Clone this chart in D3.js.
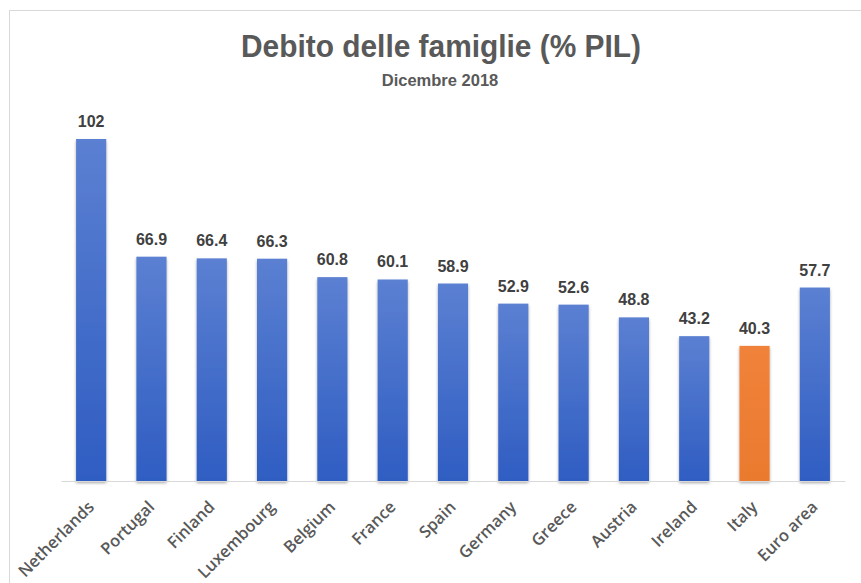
<!DOCTYPE html>
<html>
<head>
<meta charset="utf-8">
<script src="https://cdn.jsdelivr.net/npm/d3@7"></script>
<style>
  html, body { margin: 0; padding: 0; background: #ffffff; }
  svg { display: block; }
</style>
</head>
<body>
<svg id="chart" width="861" height="583"></svg>
<script>
const categories = ["Netherlands", "Portugal", "Finland", "Luxembourg", "Belgium", "France", "Spain", "Germany", "Greece", "Austria", "Ireland", "Italy", "Euro area"];
const values = [102, 66.9, 66.4, 66.3, 60.8, 60.1, 58.9, 52.9, 52.6, 48.8, 43.2, 40.3, 57.7];
const valueLabels = ["102", "66.9", "66.4", "66.3", "60.8", "60.1", "58.9", "52.9", "52.6", "48.8", "43.2", "40.3", "57.7"];
const highlight = ["Italy"];
const titleText = "Debito delle famiglie (% PIL)";
const subtitleText = "Dicembre 2018";

const svg = d3.select("#chart");
const W = 861, H = 583;

// frame
svg.append("rect")
  .attr("x", 9.5).attr("y", 10.5)
  .attr("width", W + 20).attr("height", H + 20)
  .attr("fill", "#ffffff")
  .attr("stroke", "#d9d9d9").attr("stroke-width", 1);

const defs = svg.append("defs");
const gBlue = defs.append("linearGradient").attr("id", "gBlue")
  .attr("x1", 0).attr("y1", 0).attr("x2", 0).attr("y2", 1);
gBlue.append("stop").attr("offset", "0%").attr("stop-color", "#5b80d2");
gBlue.append("stop").attr("offset", "100%").attr("stop-color", "#2f5dc2");
const gOrange = defs.append("linearGradient").attr("id", "gOrange")
  .attr("x1", 0).attr("y1", 0).attr("x2", 0).attr("y2", 1);
gOrange.append("stop").attr("offset", "0%").attr("stop-color", "#f0823a");
gOrange.append("stop").attr("offset", "100%").attr("stop-color", "#ea7a2e");

const shadow = defs.append("filter").attr("id", "shadow")
  .attr("x", "-30%").attr("y", "-10%").attr("width", "160%").attr("height", "130%");
shadow.append("feDropShadow")
  .attr("dx", 0).attr("dy", 2).attr("stdDeviation", 1.6)
  .attr("flood-color", "#000").attr("flood-opacity", 0.35);

// title
svg.append("text")
  .attr("x", 441).attr("y", 57)
  .attr("text-anchor", "middle")
  .attr("font-family", "'Liberation Sans', Arial, sans-serif")
  .attr("font-weight", "bold")
  .attr("font-size", 31)
  .attr("fill", "#595959")
  .attr("textLength", 400)
  .attr("lengthAdjust", "spacingAndGlyphs")
  .text(titleText);

svg.append("text")
  .attr("x", 440).attr("y", 86)
  .attr("text-anchor", "middle")
  .attr("font-family", "'Liberation Sans', Arial, sans-serif")
  .attr("font-weight", "bold")
  .attr("font-size", 16.5)
  .attr("fill", "#595959")
  .text(subtitleText);

const x = d3.scaleBand()
  .domain(categories)
  .range([61, 845])
  .paddingInner(0.5)
  .paddingOuter(0.25);

const y = d3.scaleLinear()
  .domain([0, 102])
  .range([481, 139]);

const data = categories.map((c, i) => ({ c, v: values[i], l: valueLabels[i] }));

// bars
svg.append("g").selectAll("rect")
  .data(data)
  .join("rect")
  .attr("x", d => x(d.c))
  .attr("y", d => y(d.v))
  .attr("width", x.bandwidth())
  .attr("height", d => y(0) - y(d.v))
  .attr("fill", d => highlight.includes(d.c) ? "url(#gOrange)" : "url(#gBlue)")
  .attr("filter", "url(#shadow)");

// axis line
const xAxis = d3.axisBottom(x).tickSize(0).tickFormat("");
const axisG = svg.append("g")
  .attr("transform", `translate(0,${y(0)})`)
  .call(xAxis);
axisG.select(".domain").attr("stroke", "#d9d9d9").attr("stroke-width", 1.2);

// value labels
svg.append("g").selectAll("text")
  .data(data)
  .join("text")
  .attr("x", d => x(d.c) + x.bandwidth() / 2)
  .attr("y", d => y(d.v) - 12)
  .attr("text-anchor", "middle")
  .attr("font-family", "'Liberation Sans', Arial, sans-serif")
  .attr("font-weight", "bold")
  .attr("font-size", 16)
  .attr("fill", "#404040")
  .text(d => d.l);

// category labels
svg.append("g").selectAll("text")
  .data(data)
  .join("text")
  .attr("transform", d => `translate(${x(d.c) + x.bandwidth() / 2 + 4},${y(0) + 27}) rotate(-45)`)
  .attr("text-anchor", "end")
  .attr("font-family", "'Open Sans', sans-serif")
  .attr("font-size", 16.5)
  .attr("font-weight", 600)
  .attr("fill", "#595959")
  .text(d => d.c);
</script>
</body>
</html>
